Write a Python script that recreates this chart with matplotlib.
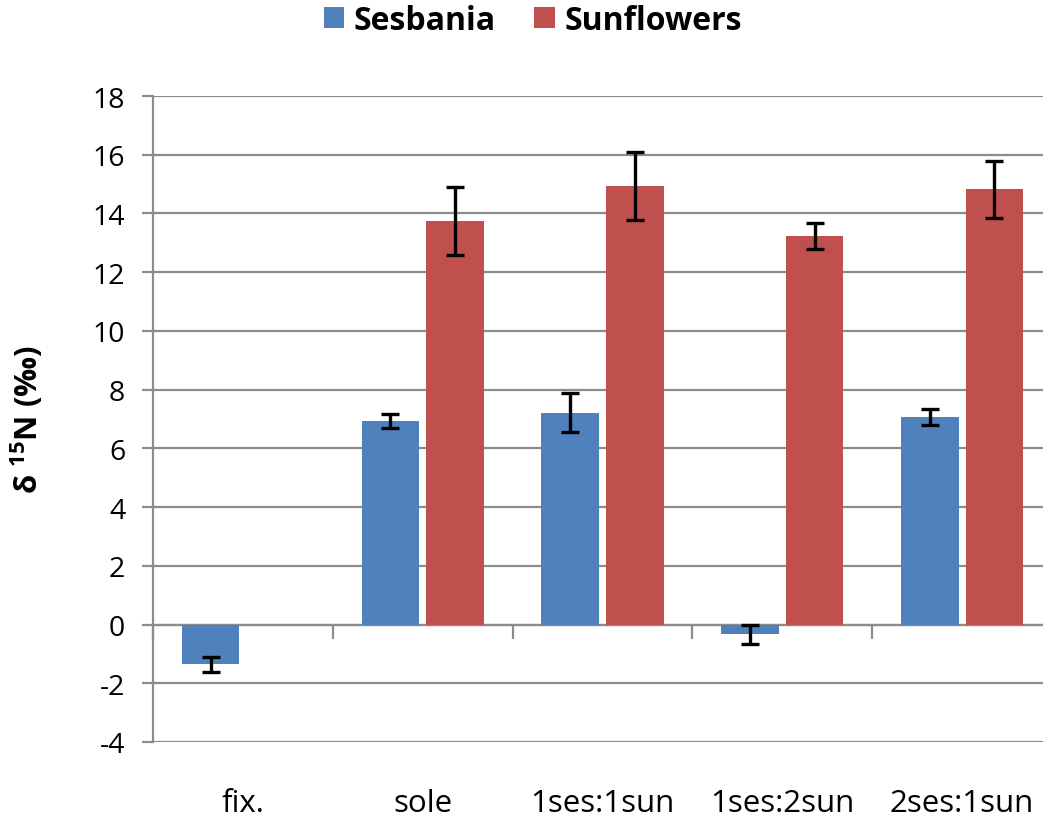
#!/usr/bin/env python3
"""
Delta 15N of sesbania and sunflowers under different planting ratios.
"""
import numpy as np
import matplotlib
matplotlib.use('Agg')
import matplotlib.pyplot as plt

treatments = ['fix.', 'sole', '1ses:1sun', '1ses:2sun', '2ses:1sun']
sesbania = [-1.36, 6.93, 7.22, -0.33, 7.06]
sesbania_err = [0.25, 0.24, 0.67, 0.33, 0.27]
sunflowers = [np.nan, 13.74, 14.93, 13.23, 14.83]
sunflowers_err = [np.nan, 1.16, 1.16, 0.45, 0.97]

BLUE = '#4F81BD'
RED = '#C0504D'
GRID = '#8C8C8C'

plt.rcParams['font.family'] = ['Open Sans', 'DejaVu Sans']
plt.rcParams['axes.unicode_minus'] = False
plt.rcParams['mathtext.fontset'] = 'custom'
plt.rcParams['mathtext.bf'] = 'Open Sans:bold'
plt.rcParams['mathtext.rm'] = 'Open Sans:bold'


def main():
    fig = plt.figure(figsize=(10.43, 8.2), dpi=100)
    ax = fig.add_axes([153 / 1043, 1 - 743 / 820,
                       (1052 - 153) / 1043, (743 - 97) / 820])

    x = np.arange(len(treatments))
    width = 0.32
    off = 0.18
    # capsize is half the cap length
    ebar = dict(ecolor='black', capsize=6.5, elinewidth=2.4, capthick=2.4)
    ax.bar(x - off, sesbania, width, color=BLUE, yerr=sesbania_err,
           error_kw=ebar, label='Sesbania', zorder=3)
    ax.bar(x + off, sunflowers, width, color=RED, yerr=sunflowers_err,
           error_kw=ebar, label='Sunflowers', zorder=3)

    ax.set_xlim(-0.5, len(treatments) - 0.5)
    ax.set_ylim(-4, 18)
    ax.set_yticks(np.arange(-4, 19, 2))
    ax.yaxis.grid(True, color=GRID, linewidth=1.6, zorder=0)
    ax.set_axisbelow(True)

    for side in ('top', 'right'):
        ax.spines[side].set_visible(False)
    ax.spines['left'].set_color(GRID)
    ax.spines['left'].set_linewidth(1.6)
    ax.spines['bottom'].set_position(('data', 0))
    ax.spines['bottom'].set_color(GRID)
    ax.spines['bottom'].set_linewidth(1.6)
    ax.spines['bottom'].set_zorder(2)

    # category boundaries as ticks on the zero line
    ax.set_xticks(np.arange(len(treatments) + 1) - 0.5)
    ax.tick_params(axis='x', length=10, width=1.6, color=GRID,
                   labelbottom=False)
    ax.tick_params(axis='y', length=8, width=1.6, color=GRID,
                   labelsize=20.5, pad=12)

    # category labels at the bottom of the plot
    sec = ax.secondary_xaxis(0.0)
    sec.set_xticks(x)
    sec.set_xticklabels(treatments)
    sec.tick_params(length=0, labelsize=22.5, pad=33)
    sec.spines['bottom'].set_visible(False)

    ax.set_ylabel(r'δ $^{\mathbf{15}}$N (‰)', fontsize=22.5,
                  fontweight='bold')
    ax.yaxis.set_label_coords(-0.12, 0.5)

    fig.legend(loc='center', bbox_to_anchor=(0.511, 1 - 21 / 820), ncol=2,
               frameon=False, prop={'size': 23, 'weight': 'bold'},
               handlelength=0.63, handleheight=0.63, handletextpad=0.3,
               columnspacing=1.2, borderaxespad=0.0, borderpad=0.0)

    fig.savefig('out.png', dpi=100)


if __name__ == '__main__':
    main()
